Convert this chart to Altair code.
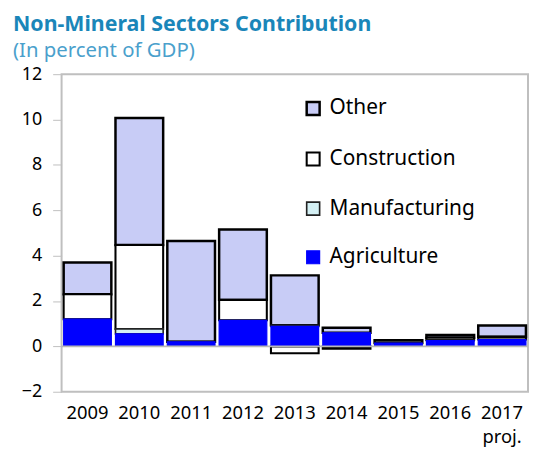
import altair as alt
import pandas as pd

years = ["2009", "2010", "2011", "2012", "2013", "2014", "2015", "2016", "2017"]
agriculture = [1.2, 0.55, 0.2, 1.15, 0.88, 0.6, 0.15, 0.25, 0.3]
manufacturing = [0.0, 0.22, 0.0, 0.0, 0.05, 0.0, 0.0, 0.03, 0.0]
construction = [1.1, 3.7, 0.0, 0.9, -0.3, -0.1, 0.0, 0.1, 0.12]
other = [1.4, 5.6, 4.45, 3.1, 2.2, 0.22, 0.12, 0.12, 0.5]

series_names = ["Other", "Construction", "Manufacturing", "Agriculture"]
stack_order = {"Agriculture": 0, "Manufacturing": 1, "Construction": 2, "Other": 3}
series_values = {
    "Agriculture": agriculture,
    "Manufacturing": manufacturing,
    "Construction": construction,
    "Other": other,
}

rows = []
for s in series_names:
    for y, v in zip(years, series_values[s]):
        rows.append({"year": y, "sector": s, "value": v, "ord": stack_order[s]})
df = pd.DataFrame(rows)

FONT = "Noto Sans"

bars = alt.Chart(df).mark_bar().encode(
    x=alt.X("year:N", sort=years, title=None,
            scale=alt.Scale(paddingInner=0.08, paddingOuter=0.04),
            axis=alt.Axis(labelAngle=0, ticks=False, domain=False, labelPadding=12,
                          labelFontSize=18.5, labelFont=FONT, labelColor="#000000",
                          labelLineHeight=24,
                          labelExpr="datum.value == '2017' ? ['2017', '   proj.'] : datum.value")),
    y=alt.Y("value:Q", title=None, stack="zero",
            scale=alt.Scale(domain=[-2, 12], nice=False),
            axis=alt.Axis(values=[-2, 0, 2, 4, 6, 8, 10, 12], grid=False, domain=False,
                          tickSize=9, tickColor="#bfbfbf", labelPadding=11,
                          labelFontSize=18, labelFont=FONT, labelColor="#000000",
                          minExtent=54, maxExtent=54)),
    fill=alt.Fill("sector:N", scale=alt.Scale(domain=series_names,
                  range=["#c8ccf6", "#ffffff", "#d4f0f4", "#0000ff"]),
                  legend=alt.Legend(title=None, orient="none", legendX=243, legendY=24,
                                    labelFontSize=21, labelFont=FONT, symbolType="square",
                                    symbolSize=170, rowPadding=27, labelOffset=6)),
    stroke=alt.Stroke("sector:N", scale=alt.Scale(domain=series_names,
                      range=["#000000", "#000000", "#222222", "#0000ff"]), legend=None),
    strokeWidth=alt.StrokeWidth("sector:N", scale=alt.Scale(domain=series_names,
                      range=[2.5, 1.2, 1.0, 0.5]), legend=None),
    order=alt.Order("ord:Q"),
)

zero = alt.Chart(pd.DataFrame({"z": [0]})).mark_rule(color="#b8b8b8", strokeWidth=2).encode(y="z:Q")

chart = alt.layer(bars, zero).properties(
    width=470, height=320,
    padding={"left": 0, "top": 4, "right": 0, "bottom": 0},
    title=alt.TitleParams(text="Non-Mineral Sectors Contribution", subtitle="(In percent of GDP)",
                          anchor="start", frame="bounds", dx=5, font=FONT, fontSize=21.5,
                          fontWeight="bold", color="#1a86b9", subtitleFont=FONT,
                          subtitleFontSize=20.5, subtitleColor="#4aa0cc", subtitlePadding=6,
                          offset=4),
).configure_view(stroke="#bfbfbf", strokeWidth=2)

chart.save("out.html", embed_options={"renderer": "svg", "actions": False})
